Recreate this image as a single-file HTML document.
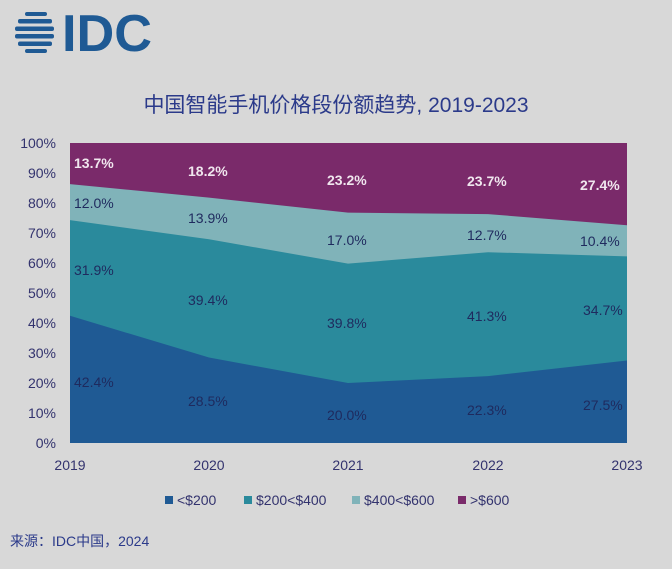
<!DOCTYPE html>
<html><head><meta charset="utf-8"><style>
body{margin:0;background:#d8d8d8;width:672px;height:564px;overflow:hidden;font-family:"Liberation Sans","Noto Sans CJK SC",sans-serif}
</style></head><body>
<svg width="672" height="564" xmlns="http://www.w3.org/2000/svg" font-family="Liberation Sans, Noto Sans CJK SC, sans-serif">
<rect width="672" height="564" fill="#d8d8d8"/>
<!-- logo -->
<g fill="#1f5a94">
<rect x="25" y="12" width="22" height="4" rx="2"/>
<rect x="18" y="19" width="34" height="4.5" rx="2"/>
<rect x="15" y="26.5" width="39" height="4.5" rx="2"/>
<rect x="15" y="34" width="39" height="4.5" rx="2"/>
<rect x="18" y="41.5" width="34" height="4.5" rx="2"/>
<rect x="25" y="49" width="22" height="4" rx="2"/>
</g>
<text x="62" y="51" font-size="52" font-weight="bold" fill="#1f5a94" textLength="90" lengthAdjust="spacingAndGlyphs">IDC</text>
<text x="336" y="112" font-size="21" fill="#2b3a8a" text-anchor="middle">中国智能手机价格段份额趋势, 2019-2023</text>
<!-- areas -->
<rect x="70" y="143" width="557" height="300" fill="#7a2a6a"/>
<polygon fill="#80b3b9" points="70,184.1 209,197.6 348,212.6 488,214.1 627,225.2 627,443 70,443"/>
<polygon fill="#2a8a9c" points="70,220.1 209,239.3 348,263.6 488,252.2 627,256.4 627,443 70,443"/>
<polygon fill="#1f5a94" points="70,315.8 209,357.5 348,383 488,376.1 627,360.5 627,443 70,443"/>
<g font-size="14" fill="#33336e" text-anchor="end">
<text x="56" y="148">100%</text><text x="56" y="178">90%</text><text x="56" y="208">80%</text><text x="56" y="238">70%</text><text x="56" y="268">60%</text><text x="56" y="298">50%</text><text x="56" y="328">40%</text><text x="56" y="358">30%</text><text x="56" y="388">20%</text><text x="56" y="418">10%</text><text x="56" y="448">0%</text>
</g>
<g font-size="14" fill="#33336e" text-anchor="middle">
<text x="70" y="470">2019</text><text x="209" y="470">2020</text><text x="348" y="470">2021</text><text x="488" y="470">2022</text><text x="627" y="470">2023</text>
</g>
<g font-size="14" font-weight="bold" fill="#f0e6ee">
<text x="74" y="168">13.7%</text><text x="188" y="176">18.2%</text><text x="327" y="185">23.2%</text><text x="467" y="186">23.7%</text><text x="580" y="190">27.4%</text>
</g>
<g font-size="14" fill="#1f2a5e">
<text x="74" y="208">12.0%</text><text x="188" y="223">13.9%</text><text x="327" y="245">17.0%</text><text x="467" y="240">12.7%</text><text x="580" y="246">10.4%</text>
<text x="74" y="275">31.9%</text><text x="188" y="305">39.4%</text><text x="327" y="328">39.8%</text><text x="467" y="321">41.3%</text><text x="583" y="315">34.7%</text>
<text x="74" y="387">42.4%</text><text x="188" y="406">28.5%</text><text x="327" y="420">20.0%</text><text x="467" y="415">22.3%</text><text x="583" y="410">27.5%</text>
</g>
<g font-size="14" fill="#33336e">
<rect x="165" y="496" width="8" height="8" fill="#1f5a94"/><text x="177" y="505">&lt;$200</text>
<rect x="244" y="496" width="8" height="8" fill="#2a8a9c"/><text x="256" y="505">$200&lt;$400</text>
<rect x="352" y="496" width="8" height="8" fill="#80b3b9"/><text x="364" y="505">$400&lt;$600</text>
<rect x="458" y="496" width="8" height="8" fill="#7a2a6a"/><text x="470" y="505">&gt;$600</text>
</g>
<text x="10" y="546" font-size="14" fill="#2b3a8a">来源：IDC中国，2024</text>
</svg>
</body></html>
